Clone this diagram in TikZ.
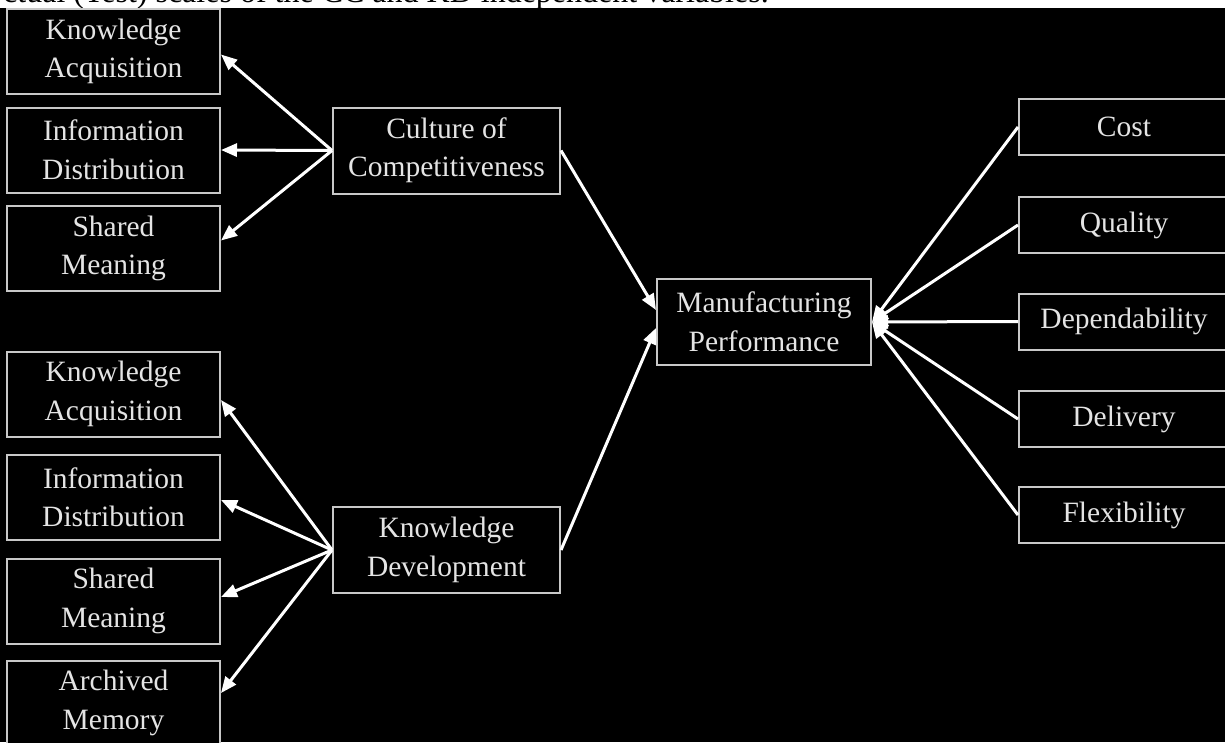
\documentclass[tikz,border=0pt]{standalone}
\usepackage{fontspec}
\setmainfont{Liberation Serif}
\usetikzlibrary{arrows.meta}
\definecolor{boxgray}{HTML}{C8C8C8}
\definecolor{txtgray}{HTML}{E4E4E4}
\begin{document}
\begin{tikzpicture}[x=1pt,y=-1pt,
  box/.style={draw=boxgray,line width=2pt,fill=black,text=txtgray,align=center,inner sep=0pt,font=\fontsize{29.5}{38.5}\selectfont},
  lbox/.style={box,minimum width=213pt,minimum height=85pt},
  rbox/.style={box,minimum width=210pt,minimum height=56pt},
  cbox/.style={box,minimum width=227pt,minimum height=86pt},
  mbox/.style={box,minimum width=214pt,minimum height=86pt},
  arr/.style={draw=white,line width=3pt,-{Triangle[length=16pt,width=13pt]}},
]
\useasboundingbox (0,0) rectangle (1225,742);
\clip (0,0) rectangle (1225,742);
\fill[white] (0,0) rectangle (1225,8);
\fill[black] (0,8) rectangle (1225,742);
\begin{scope}
  \clip (0,0) rectangle (1225,8);
  \node[anchor=base west,inner sep=0pt,font=\fontsize{32}{38}\selectfont,text=black] (cap) at (3,2) {ctual (Test) scales of the CC and KD independent variables.};
\end{scope}

% left column, top group
\node[lbox] (ka1) at (113.5,51.5) {Knowledge\\Acquisition};
\node[lbox] (id1) at (113.5,150) {Information\\Distribution};
\node[lbox] (sm1) at (113.5,248.5) {Shared\\Meaning};
% left column, bottom group
\node[lbox] (ka2) at (113.5,394) {Knowledge\\Acquisition};
\node[lbox] (id2) at (113.5,497) {Information\\Distribution};
\node[lbox] (sm2) at (113.5,601) {Shared\\Meaning};
\node[lbox] (am2) at (113.5,703) {Archived\\Memory};
% middle
\node[cbox] (cc) at (446.5,150.5) {Culture of\\Competitiveness};
\node[cbox] (kd) at (446.5,550) {Knowledge\\Development};
\node[mbox] (mp) at (764,322) {Manufacturing\\Performance};
% right column
\node[rbox] (cost) at (1124,127) {Cost};
\node[rbox] (qual) at (1124,225) {Quality};
\node[rbox] (dep) at (1124,321.5) {Dependability};
\node[rbox] (del) at (1124,419) {Delivery};
\node[rbox] (flex) at (1124,515) {Flexibility};

% connectors
\draw[arr] (cc.west) -- ([yshift=-3pt]ka1.east);
\draw[arr] (cc.west) -- (id1.east);
\draw[arr] (cc.west) -- ([yshift=8pt]sm1.east);
\draw[arr] (kd.west) -- ([yshift=-6pt]ka2.east);
\draw[arr] (kd.west) -- ([yshift=-3pt]id2.east);
\draw[arr] (kd.west) -- ([yshift=4pt]sm2.east);
\draw[arr] (kd.west) -- ([yshift=10pt]am2.east);
\draw[arr] (cc.east) -- ([yshift=12pt]mp.west);
\draw[arr] (kd.east) -- ([yshift=-6pt]mp.west);
\draw[arr] (cost.west) -- (mp.east);
\draw[arr] (qual.west) -- (mp.east);
\draw[arr] (dep.west) -- (mp.east);
\draw[arr] (del.west) -- (mp.east);
\draw[arr] (flex.west) -- (mp.east);
\end{tikzpicture}
\end{document}
